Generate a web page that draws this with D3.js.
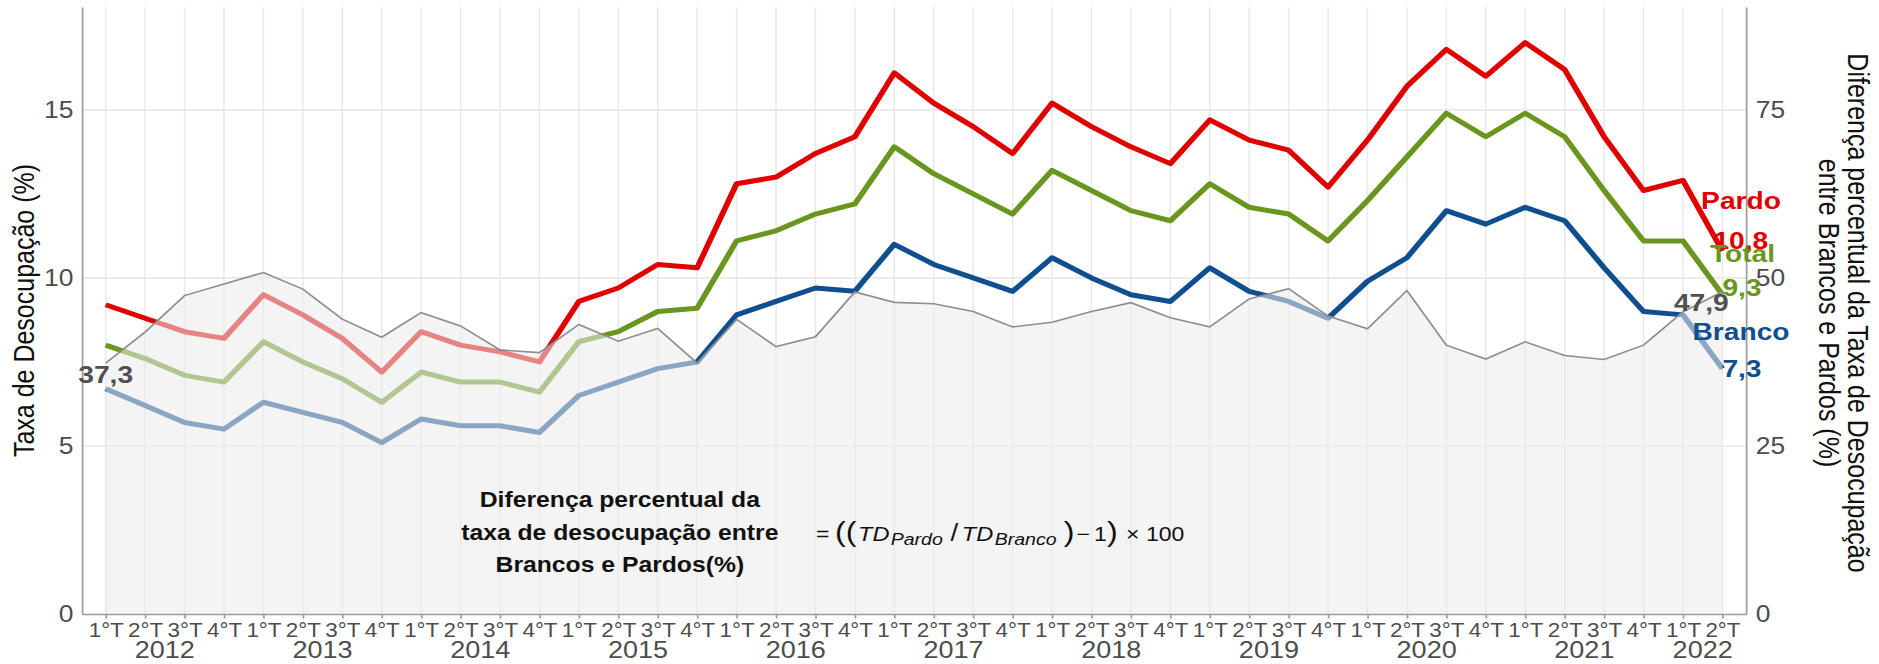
<!DOCTYPE html>
<html>
<head>
<meta charset="utf-8">
<script src="https://cdn.jsdelivr.net/npm/d3@7"></script>
<style>
  body { margin: 0; background: #fff; }
  svg text { font-family: "Liberation Sans", Arial, sans-serif; }
</style>
</head>
<body>
<script>
// quarterly unemployment rate (%), 1°T 2012 .. 2°T 2022
var years = ["2012", "2013", "2014", "2015", "2016", "2017",
             "2018", "2019", "2020", "2021", "2022"]
var quarters = ["1°T", "2°T", "3°T", "4°T"]
var lastQuarters = 2  // 2022 only has two quarters

var pardo = [9.2, 8.8, 8.4, 8.2, 9.5, 8.9, 8.2, 7.2, 8.4, 8.0, 7.8, 7.5,
             9.3, 9.7, 10.4, 10.3, 12.8, 13.0, 13.7, 14.2, 16.1, 15.2, 14.5, 13.7,
             15.2, 14.5, 13.9, 13.4, 14.7, 14.1, 13.8, 12.7, 14.1, 15.7, 16.8, 16.0,
             17.0, 16.2, 14.2, 12.6, 12.9, 10.8]
var total = [8.0, 7.6, 7.1, 6.9, 8.1, 7.5, 7.0, 6.3, 7.2, 6.9, 6.9, 6.6,
             8.1, 8.4, 9.0, 9.1, 11.1, 11.4, 11.9, 12.2, 13.9, 13.1, 12.5, 11.9,
             13.2, 12.6, 12.0, 11.7, 12.8, 12.1, 11.9, 11.1, 12.3, 13.6, 14.9, 14.2,
             14.9, 14.2, 12.6, 11.1, 11.1, 9.5]
var branco = [6.7, 6.2, 5.7, 5.5, 6.3, 6.0, 5.7, 5.1, 5.8, 5.6, 5.6, 5.4,
              6.5, 6.9, 7.3, 7.5, 8.9, 9.3, 9.7, 9.6, 11.0, 10.4, 10.0, 9.6,
              10.6, 10.0, 9.5, 9.3, 10.3, 9.6, 9.3, 8.8, 9.9, 10.6, 12.0, 11.6,
              12.1, 11.7, 10.3, 9.0, 8.9, 7.3]

var leftTicks = [0, 5, 10, 15]
var rightTicks = [0, 25, 50, 75]
var endNames = ["Pardo", "Total", "Branco"]
var endValues = ["10,8", "9,3", "7,3"]
var noteLines = ["Diferença percentual da", "taxa de desocupação entre", "Brancos e Pardos(%)"]

// the reference is drawn a bit wider than tall, everything sits in a stretched group
function Visualization() {
  this.width = 1879
  this.height = 664
  this.stretch = 1.15
  this.left = 71.3
  this.right = 1518.3
  this.top = 7
  this.bottom = 614
  this.colors = {"Pardo": "#df0000", "Total": "#6a961f", "Branco": "#0f4f8f"}
  this.x;
  this.y;
  this.y2;
}

main()

function main() {
  var vis = new Visualization()
  var keys = []
  years.forEach(function(yr, j) {
    var n = (j == years.length - 1) ? lastQuarters : 4
    for (var q = 0; q < n; q++) keys.push(yr + "-" + q)
  })
  // percentual difference between Pardos and Brancos, as in the note formula
  var diff = pardo.map(function(p, i) { return (p / branco[i] - 1) * 100 })

  initVis(vis, keys)
  addGrid(vis, keys)
  addLines(vis, keys)
  addArea(vis, keys, diff)
  addAxes(vis, keys)
  addLabels(vis, keys, diff)
  addNote(vis)
}

function initVis(vis, keys) {
  vis.x = d3.scalePoint().domain(keys).range([vis.left, vis.right]).padding(0.6)
  vis.y = d3.scaleLinear().domain([0, 18.06]).range([vis.bottom, vis.top])
  vis.y2 = d3.scaleLinear().domain([0, 18.06 * 5]).range([vis.bottom, vis.top])

  d3.select("body")
    .append("svg")
    .attr("id", "chart")
    .attr("width", vis.width)
    .attr("height", vis.height)
    .append("g")
    .attr("id", "plot")
    .attr("transform", "scale(" + vis.stretch + ",1)")
}

function addGrid(vis, keys) {
  var g = d3.select("#plot").append("g").attr("id", "grid")
  g.selectAll("line.v")
    .data(keys)
    .enter()
    .append("line")
    .attr("class", "v")
    .attr("x1", function(k) { return vis.x(k) })
    .attr("x2", function(k) { return vis.x(k) })
    .attr("y1", vis.top)
    .attr("y2", vis.bottom)
    .attr("stroke", "#e9e9e9")
    .attr("stroke-width", 1.3)
  g.selectAll("line.h")
    .data(leftTicks.slice(1))
    .enter()
    .append("line")
    .attr("class", "h")
    .attr("x1", vis.left)
    .attr("x2", vis.right)
    .attr("y1", function(d) { return vis.y(d) })
    .attr("y2", function(d) { return vis.y(d) })
    .attr("stroke", "#e9e9e9")
    .attr("stroke-width", 1.6)
}

function addLines(vis, keys) {
  var line = d3.line()
    .x(function(d, i) { return vis.x(keys[i]) })
    .y(function(d) { return vis.y(d) })
  var series = [["Pardo", pardo], ["Total", total], ["Branco", branco]]
  d3.select("#plot")
    .append("g")
    .attr("id", "lines")
    .selectAll("path")
    .data(series)
    .enter()
    .append("path")
    .attr("d", function(s) { return line(s[1]) })
    .attr("fill", "none")
    .attr("stroke", function(s) { return vis.colors[s[0]] })
    .attr("stroke-width", 5)
    .attr("stroke-linejoin", "round")
}

// the grey area is see-through and fades the lines that run under it
function addArea(vis, keys, diff) {
  var area = d3.area()
    .x(function(d, i) { return vis.x(keys[i]) })
    .y0(vis.y(0))
    .y1(function(d) { return vis.y2(d) })
  var line = d3.line()
    .x(function(d, i) { return vis.x(keys[i]) })
    .y(function(d) { return vis.y2(d) })
  var g = d3.select("#plot").append("g").attr("id", "diff")
  g.append("path")
    .attr("d", area(diff))
    .attr("fill", "#ececec")
    .attr("fill-opacity", 0.56)
  g.append("path")
    .attr("d", line(diff))
    .attr("fill", "none")
    .attr("stroke", "#8e8e8e")
    .attr("stroke-width", 1.6)
}

function addAxes(vis, keys) {
  var plot = d3.select("#plot")
  var axisColor = "#9c9c9c"

  var yAxis = d3.axisLeft(vis.y).tickValues(leftTicks).tickSize(0).tickPadding(7.5)
  var y2Axis = d3.axisRight(vis.y2).tickValues(rightTicks).tickSize(0).tickPadding(8.5)
  var xAxis = d3.axisBottom(vis.x)
    .tickSize(4.5)
    .tickSizeOuter(0)
    .tickPadding(4.5)
    .tickFormat(function(k) { return quarters[+k.split("-")[1]] })

  plot.append("g")
    .attr("id", "yAxis")
    .attr("transform", "translate(" + vis.left + ",0)")
    .call(yAxis)
  plot.append("g")
    .attr("id", "y2Axis")
    .attr("transform", "translate(" + vis.right + ",0)")
    .call(y2Axis)
  plot.append("g")
    .attr("id", "xAxis")
    .attr("transform", "translate(0," + vis.bottom + ")")
    .call(xAxis)

  plot.selectAll("#yAxis, #y2Axis, #xAxis")
    .attr("font-family", null)
    .attr("font-size", null)
  plot.selectAll("#yAxis text, #y2Axis text")
    .attr("font-size", 23)
    .attr("fill", "#4d4d4d")
  plot.selectAll("#xAxis text")
    .attr("font-size", 19.5)
    .attr("fill", "#4d4d4d")
  plot.selectAll(".domain, .tick line")
    .attr("stroke", axisColor)
    .attr("stroke-width", 1.5)

  // year under its quarters
  plot.append("g")
    .attr("id", "years")
    .selectAll("text")
    .data(years)
    .enter()
    .append("text")
    .attr("x", function(yr) {
      var ks = keys.filter(function(k) { return k.split("-")[0] == yr })
      return (vis.x(ks[0]) + vis.x(ks[ks.length - 1])) / 2
    })
    .attr("y", 658.5)
    .attr("text-anchor", "middle")
    .attr("font-size", 23.5)
    .attr("fill", "#4d4d4d")
    .text(function(yr) { return yr })

  plot.append("text")
    .attr("transform", "translate(29.8," + ((vis.top + vis.bottom) / 2) + ") rotate(-90)")
    .attr("text-anchor", "middle")
    .attr("font-size", 25)
    .attr("fill", "#111")
    .text("Taxa de Desocupação (%)")

  var t = plot.append("text")
    .attr("transform", "translate(1607,313) rotate(90)")
    .attr("text-anchor", "middle")
    .attr("font-size", 25)
    .attr("fill", "#111")
  t.append("tspan").attr("x", 0).text("Diferença percentual da Taxa de Desocupação")
  t.append("tspan").attr("x", 0).attr("dy", "1em").text("entre Brancos e Pardos (%)")
}

function addLabels(vis, keys, diff) {
  var plot = d3.select("#plot")
  var n = keys.length - 1
  var xEnd = vis.x(keys[n])
  var g = plot.append("g")
    .attr("id", "labels")
    .attr("font-weight", "bold")
    .attr("font-size", 24.5)

  var fmt = function(v) { return v.toFixed(1).replace(".", ",") }
  g.append("text")
    .attr("x", vis.x(keys[0]))
    .attr("y", vis.y2(diff[0]) + 20)
    .attr("text-anchor", "middle")
    .attr("fill", "#505050")
    .text(fmt(diff[0]))
  g.append("text")
    .attr("x", xEnd - 18.3)
    .attr("y", vis.y2(diff[n]) + 19.5)
    .attr("text-anchor", "middle")
    .attr("fill", "#505050")
    .text(fmt(diff[n]))

  var last = {"Pardo": pardo[n], "Total": total[n], "Branco": branco[n]}
  var nameShift = {"Pardo": [16.2, -42.5], "Total": [17.5, -33], "Branco": [16.2, -28.7]}
  var valueShift = {"Pardo": [-7.8, -2], "Total": [0, 1], "Branco": [0, 8]}

  endNames.forEach(function(name, i) {
    g.append("text")
      .attr("x", xEnd + nameShift[name][0])
      .attr("y", vis.y(last[name]) + nameShift[name][1])
      .attr("text-anchor", "middle")
      .attr("fill", vis.colors[name])
      .text(name)
    g.append("text")
      .attr("x", xEnd + valueShift[name][0])
      .attr("y", vis.y(last[name]) + valueShift[name][1])
      .attr("fill", vis.colors[name])
      .text(endValues[i])
  })
}

function addNote(vis) {
  var plot = d3.select("#plot")
  plot.append("g")
    .attr("id", "note")
    .selectAll("text")
    .data(noteLines)
    .enter()
    .append("text")
    .attr("x", 539)
    .attr("y", function(d, i) { return 507.5 + i * 32.5 })
    .attr("text-anchor", "middle")
    .attr("font-weight", "bold")
    .attr("font-size", 21.5)
    .attr("fill", "#111")
    .text(function(d) { return d })

  // = ((TD_Pardo / TD_Branco) - 1) x 100, one text with placed pieces
  var pieces = [
    {"t": "=", "x": 709.6, "size": 20},
    {"t": "((", "x": 726.1, "size": 28},
    {"t": "TD", "x": 746.1, "size": 20.5, "italic": true},
    {"t": "Pardo", "x": 774.5, "size": 17, "italic": true, "sub": true},
    {"t": "/", "x": 826.5, "size": 24},
    {"t": "TD", "x": 836.4, "size": 20.5, "italic": true},
    {"t": "Branco", "x": 865.0, "size": 17, "italic": true, "sub": true},
    {"t": ")", "x": 925.0, "size": 28},
    {"t": "\u2212", "x": 936.0, "size": 20},
    {"t": "1", "x": 951.3, "size": 20},
    {"t": ")", "x": 962.6, "size": 28},
    {"t": "\u00d7", "x": 979.1, "size": 20},
    {"t": "100", "x": 996.5, "size": 20}
  ]
  plot.append("text")
    .attr("id", "formula")
    .attr("fill", "#111")
    .selectAll("tspan")
    .data(pieces)
    .enter()
    .append("tspan")
    .attr("x", function(p) { return p.x })
    .attr("y", function(p) { return p.sub ? 545.5 : 541 })
    .attr("font-size", function(p) { return p.size })
    .attr("font-style", function(p) { return p.italic ? "italic" : "normal" })
    .text(function(p) { return p.t })
}
</script>
</body>
</html>
